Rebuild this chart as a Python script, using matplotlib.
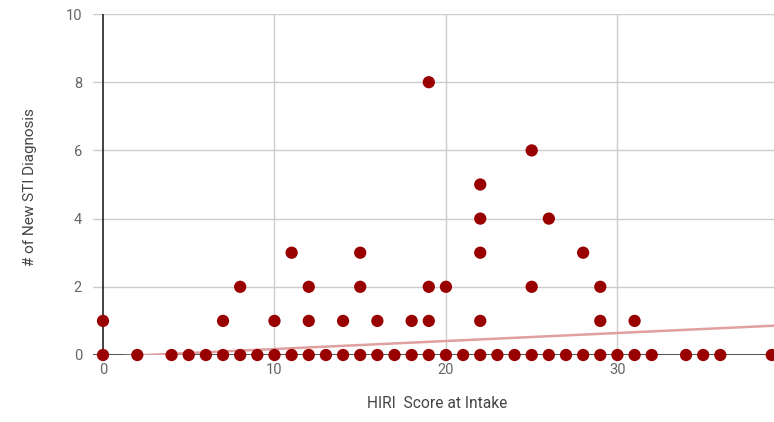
import numpy as np
import matplotlib
matplotlib.use("Agg")
import matplotlib.pyplot as plt

# HIRI score at intake vs number of new STI diagnoses
hiri_zero = [0, 2, 4, 5, 6, 7, 8, 9, 10, 11, 12, 13, 14, 15, 16, 17, 18, 19,
             20, 21, 22, 23, 24, 25, 26, 27, 28, 29, 30, 31, 32, 34, 35, 36, 39]
hiri_one = [0, 7, 10, 12, 14, 16, 18, 19, 22, 29, 31]
hiri_two = [8, 12, 15, 19, 20, 25, 29]
hiri_three = [11, 15, 22, 28]
hiri_four = [22, 26]
hiri_five = [22]
hiri_six = [25]
hiri_eight = [19]

# linear trendline
trend_slope = 0.0235
trend_intercept = -0.06

x_ticks = [0, 10, 20, 30]
y_ticks = [0, 2, 4, 6, 8, 10]

groups = [(hiri_zero, 0), (hiri_one, 1), (hiri_two, 2), (hiri_three, 3),
          (hiri_four, 4), (hiri_five, 5), (hiri_six, 6), (hiri_eight, 8)]
xs = np.concatenate([np.array(g, dtype=float) for g, v in groups])
ys = np.concatenate([np.full(len(g), v, dtype=float) for g, v in groups])

plt.rcParams['font.family'] = ['Roboto', 'DejaVu Sans']

fig = plt.figure(figsize=(7.74, 4.22), dpi=100)
ax = fig.add_axes([93 / 774, 67 / 422, 681 / 774, 341 / 422])
ax.set_xlim(-0.583, 39.13)
ax.set_ylim(0, 10)

# grid
for t in y_ticks[1:]:
    ax.axhline(t, color="#cccccc", lw=1, zorder=0)
for t in x_ticks[1:]:
    ax.axvline(t, color="#cccccc", lw=1, zorder=0)
ax.axhline(0, color="#333333", lw=1.2, zorder=1)
ax.axvline(0, color="#222222", lw=1.2, zorder=1)

tx = np.array([0, 40])
ax.plot(tx, trend_intercept + trend_slope * tx, color="#e0a0a0", lw=1.8, zorder=2)

ax.scatter(xs, ys, s=78, color="#990000", edgecolors="none", zorder=3, clip_on=False)

for s in ax.spines.values():
    s.set_visible(False)
ax.set_xticks(x_ticks)
ax.set_yticks(y_ticks)
ax.tick_params(length=0, labelsize=10.5, labelcolor="#666666")
ax.tick_params(axis="y", pad=8)
ax.tick_params(axis="x", pad=6)

fig.text(437 / 774, 1 - 408 / 422, "HIRI  Score at Intake", ha="center",
         va="baseline", fontsize=11.2, color="#444444")
fig.text(30 / 774, 1 - 187 / 422, "# of New STI Diagnosis", ha="center",
         va="center", rotation=90, fontsize=11, color="#444444")

fig.savefig("out.png", dpi=100)
